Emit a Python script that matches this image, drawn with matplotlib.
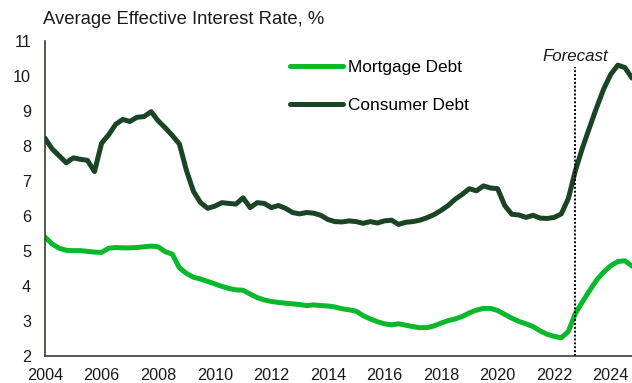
import numpy as np
import matplotlib
matplotlib.use("Agg")
import matplotlib.pyplot as plt

plt.rcParams['font.family'] = ['Liberation Sans', 'DejaVu Sans']

# Quarterly observations, 2004Q1 .. 2024Q4 (last points are forecasts)
start_year = 2004
quarters_per_year = 4

consumer_debt = [
    8.22, 7.92, 7.72, 7.52, 7.66, 7.62, 7.59, 7.27,
    8.08, 8.32, 8.62, 8.76, 8.70, 8.82, 8.84, 8.98,
    8.72, 8.52, 8.30, 8.06, 7.30, 6.70, 6.38, 6.22,
    6.28, 6.38, 6.36, 6.34, 6.52, 6.24, 6.38, 6.36,
    6.24, 6.30, 6.22, 6.10, 6.06, 6.10, 6.08, 6.02,
    5.90, 5.84, 5.83, 5.86, 5.84, 5.79, 5.84, 5.80,
    5.86, 5.88, 5.76, 5.82, 5.84, 5.88, 5.95, 6.04,
    6.16, 6.30, 6.48, 6.62, 6.78, 6.72, 6.86, 6.80,
    6.78, 6.30, 6.05, 6.03, 5.96, 6.02, 5.94, 5.93,
    5.96, 6.06, 6.50, 7.30, 7.95, 8.53, 9.10, 9.63,
    10.05, 10.31, 10.24, 9.94,
]

mortgage_debt = [
    5.40, 5.20, 5.08, 5.02, 5.01, 5.01, 4.99, 4.97,
    4.96, 5.08, 5.10, 5.09, 5.09, 5.10, 5.12, 5.14,
    5.12, 4.98, 4.91, 4.52, 4.36, 4.25, 4.20, 4.13,
    4.06, 3.99, 3.93, 3.89, 3.88, 3.77, 3.67, 3.60,
    3.56, 3.53, 3.51, 3.49, 3.47, 3.44, 3.46, 3.44,
    3.43, 3.40, 3.35, 3.32, 3.28, 3.15, 3.06, 2.98,
    2.92, 2.89, 2.92, 2.88, 2.84, 2.81, 2.81, 2.86,
    2.94, 3.01, 3.06, 3.13, 3.23, 3.31, 3.36, 3.36,
    3.30, 3.19, 3.08, 2.99, 2.92, 2.84, 2.72, 2.62,
    2.56, 2.52, 2.70, 3.22, 3.55, 3.87, 4.17, 4.40,
    4.58, 4.70, 4.72, 4.57,
]

forecast_start = 2022.75
year_ticks = list(range(2004, 2025, 2))
rate_ticks = list(range(2, 12))

t = start_year + np.arange(len(consumer_debt)) / quarters_per_year

MORTGAGE_GREEN = "#0AB82C"
CONSUMER_GREEN = "#1A4424"
AXIS_COLOR = "#3B3B2E"

fig = plt.figure(figsize=(6.32, 3.83), dpi=100)
ax = fig.add_axes([45 / 632, 27 / 383, 587 / 632, 315 / 383])

ax.plot(t, mortgage_debt, color=MORTGAGE_GREEN, lw=3.6,
        solid_capstyle="round", solid_joinstyle="round", label="Mortgage Debt")
ax.plot(t, consumer_debt, color=CONSUMER_GREEN, lw=3.6,
        solid_capstyle="round", solid_joinstyle="round", label="Consumer Debt")

ax.axvline(forecast_start, ymin=0, ymax=(10.25 - 2) / 9, color="black",
           lw=1.4, ls=(0, (1, 1)))
ax.text(forecast_start, 10.55, "Forecast", ha="center", va="center",
        fontsize=12.2, style="italic", color="#1a1a1a")

ax.set_xlim(2004, 2024.75)
ax.set_ylim(2, 11)
ax.set_xticks(year_ticks)
ax.set_yticks(rate_ticks)
ax.tick_params(axis="both", length=0, labelsize=11.7, colors="#1a1a1a")
ax.tick_params(axis="x", pad=9)
ax.tick_params(axis="y", pad=10)

for side in ("top", "right"):
    ax.spines[side].set_visible(False)
for side in ("left", "bottom"):
    ax.spines[side].set_color(AXIS_COLOR)
    ax.spines[side].set_linewidth(1.2)

leg = ax.legend(loc="upper left", bbox_to_anchor=(0.4174, 0.939), frameon=False,
                fontsize=12.4, handlelength=3.08, handletextpad=0.3,
                labelspacing=1.32, borderaxespad=0, borderpad=0)
for line in leg.get_lines():
    line.set_linewidth(3.6)
    line.set_solid_capstyle("round")

fig.text(43 / 632, 1 - 20 / 383, "Average Effective Interest Rate, %",
         ha="left", va="center", fontsize=13.3, color="#1a1a1a")

fig.savefig("out.png", dpi=100)
